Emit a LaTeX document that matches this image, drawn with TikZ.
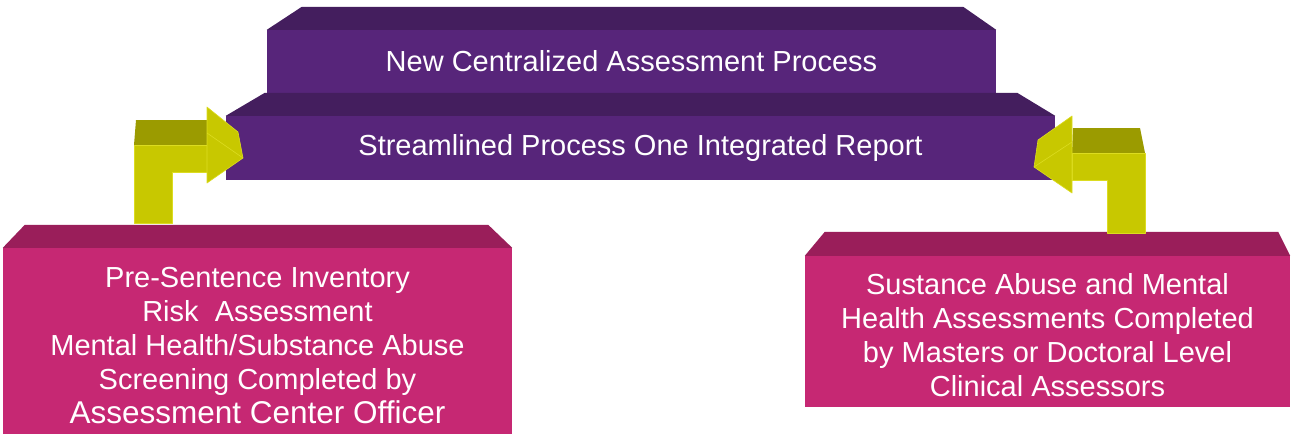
\documentclass[tikz,border=0pt]{standalone}
\usepackage{fontspec}
\setmainfont{Liberation Sans}
\begin{document}
\begin{tikzpicture}[x=1pt,y=-1pt,
  pfront/.style={fill=purpFront, draw=none, inner sep=0pt, text=white, font=\fontsize{29}{34}\selectfont},
  ptop/.style={fill=purpTop},
  kfront/.style={fill=pinkFront, draw=none, inner sep=0pt},
  ktext/.style={inner sep=0pt, text=white, align=center, font=\fontsize{29}{34}\selectfont},
  ktop/.style={fill=pinkTop},
  yfront/.style={fill=yelFront, draw=yelEdge, line width=0.6pt, line join=round},
  ytop/.style={fill=yelTop},
  yhead/.style={fill=yelFront, draw=yelEdge, line width=0.6pt, line join=round}]
\definecolor{purpFront}{HTML}{57257A}
\definecolor{purpTop}{HTML}{441E5E}
\definecolor{pinkFront}{HTML}{C62873}
\definecolor{pinkTop}{HTML}{9A1E5A}
\definecolor{yelFront}{HTML}{C8C800}
\definecolor{yelTop}{HTML}{9B9B00}
\definecolor{yelEdge}{HTML}{DCDC20}
\useasboundingbox (0,0) rectangle (1291,434);
\fill[white] (0,0) rectangle (1291,434);

% top purple box
\node[pfront, minimum width=729pt, minimum height=63pt] (b1) at (631.5,61.5) {New Centralized Assessment Process};
\fill[ptop] (b1.north west) -- ++(35,-23) -- ([xshift=-33pt,yshift=23pt]b1.north east) -- (b1.north east) -- cycle;

% second purple box
\node[pfront, minimum width=829pt, minimum height=64pt] (b2) at (640.5,148) {Streamlined Process One Integrated Report};
\fill[ptop] (b2.north west) -- ++(39,-23) -- ([xshift=-38pt,yshift=23pt]b2.north east) -- (b2.north east) -- cycle;

% left pink box
\node[kfront, minimum width=509pt, minimum height=186pt] (pl) at (257.5,341) {};
\fill[ktop] (pl.north west) -- ++(22,-23) -- ([xshift=-24pt,yshift=23pt]pl.north east) -- (pl.north east) -- cycle;
\node[ktext] (plt) at ([yshift=-5pt]pl.center) {Pre-Sentence Inventory\\Risk\ \ Assessment\\Mental Health/Substance Abuse\\Screening Completed by\\{\fontsize{31.5}{34}\selectfont Assessment Center Officer}};

% right pink box
\node[kfront, minimum width=485pt, minimum height=151pt] (pr) at (1047.5,331.5) {};
\fill[ktop] (pr.north west) -- ++(20,-24) -- ([xshift=-12pt,yshift=24pt]pr.north east) -- (pr.north east) -- cycle;
\node[ktext] (prt) at ([yshift=-4pt]pr.center) {Sustance Abuse and Mental\\Health Assessments Completed\\by Masters or Doctoral Level\\Clinical Assessors};

% left bent arrow
\fill[ytop] (136,120) -- (207,120) -- (207,145) -- (134,145) -- cycle;
\path[yfront] (134,145) -- (207,145) -- (207,172) -- (172,172) -- (172,223) -- (134,223) -- cycle;
\path[yhead] (207,107) -- (238,132) -- (243,158) -- (207,183) -- cycle;
\draw[yelEdge, line width=0.6pt] (207,133) -- (243,158);

% right bent arrow
\fill[ytop] (1073,128) -- (1140,128) -- (1145,153) -- (1072,153) -- cycle;
\path[yfront] (1072,153) -- (1145,153) -- (1145,233) -- (1107,233) -- (1107,180) -- (1072,180) -- cycle;
\path[yhead] (1072,116) -- (1038,140) -- (1034,167) -- (1072,193) -- cycle;
\draw[yelEdge, line width=0.6pt] (1072,142) -- (1034,167);
\end{tikzpicture}
\end{document}
